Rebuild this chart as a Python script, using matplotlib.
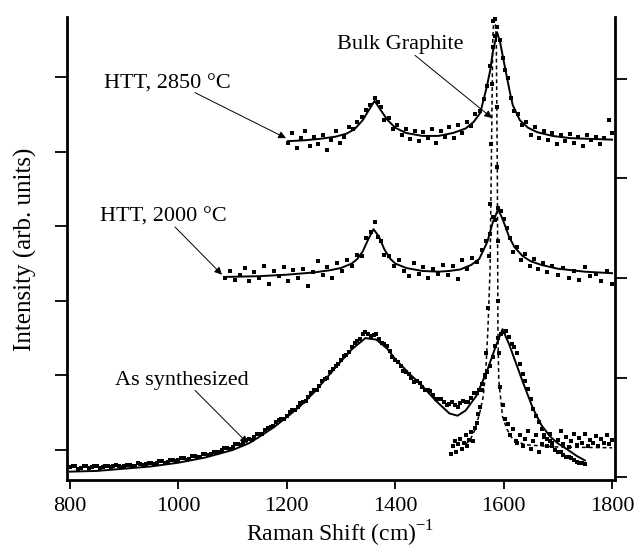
import matplotlib
matplotlib.use('Agg')
import matplotlib.pyplot as plt

plt.rcParams['font.family'] = ['Liberation Serif', 'DejaVu Serif']
plt.rcParams['mathtext.fontset'] = 'custom'
plt.rcParams['mathtext.rm'] = 'Liberation Serif'

# ---------------- data (Raman shift cm^-1, intensity arb. units) ----------------
xticks = [800, 1000, 1200, 1400, 1600, 1800]

# As synthesized: measured points (two interleaved sampling grids) and fit
as_x_a = list(range(800, 1751, 10))
as_y_a = [-0.23, -0.22, -0.24, -0.21, -0.23, -0.22, -0.23, -0.21, -0.22, -0.21,
          -0.22, -0.20, -0.21, -0.19, -0.19, -0.17, -0.18, -0.15, -0.16, -0.13,
          -0.14, -0.11, -0.12, -0.08, -0.09, -0.05, -0.06, -0.02, 0.00, 0.03,
          0.04, 0.08, 0.10, 0.15, 0.17, 0.22, 0.27, 0.31, 0.37, 0.41,
          0.46, 0.53, 0.57, 0.65, 0.71, 0.80, 0.86, 0.95, 1.04, 1.12,
          1.21, 1.28, 1.38, 1.46, 1.55, 1.56, 1.54, 1.49, 1.42, 1.33,
          1.20, 1.12, 1.04, 0.96, 0.92, 0.85, 0.80, 0.74, 0.68, 0.64,
          0.62, 0.60, 0.63, 0.64, 0.70, 0.77, 0.89, 1.04, 1.25, 1.50,
          1.58, 1.52, 1.38, 1.15, 0.92, 0.68, 0.45, 0.28, 0.15, 0.05,
          -0.02, -0.07, -0.10, -0.14, -0.17, -0.19]
as_x_b = list(range(805, 1746, 10))
as_y_b = [-0.21, -0.25, -0.22, -0.24, -0.21, -0.24, -0.21, -0.23, -0.20, -0.23,
          -0.20, -0.22, -0.18, -0.20, -0.17, -0.19, -0.15, -0.17, -0.13, -0.15,
          -0.11, -0.13, -0.08, -0.10, -0.05, -0.07, -0.02, -0.03, 0.03, 0.02,
          0.08, 0.07, 0.14, 0.13, 0.21, 0.22, 0.30, 0.32, 0.40, 0.42,
          0.51, 0.53, 0.63, 0.66, 0.77, 0.81, 0.92, 0.97, 1.09, 1.15,
          1.26, 1.31, 1.43, 1.49, 1.58, 1.53, 1.55, 1.44, 1.40, 1.25,
          1.18, 1.06, 1.02, 0.91, 0.90, 0.80, 0.79, 0.69, 0.68, 0.60,
          0.64, 0.58, 0.66, 0.64, 0.76, 0.80, 0.98, 1.12, 1.40, 1.55,
          1.60, 1.42, 1.30, 1.02, 0.82, 0.55, 0.38, 0.20, 0.12, 0.00,
          -0.03, -0.10, -0.11, -0.16, -0.17]
as_fit_x = [800, 850, 900, 950, 1000, 1050, 1100, 1130, 1150, 1175, 1200, 1225, 1250,
            1275, 1300, 1320, 1345, 1365, 1385, 1400, 1425, 1450, 1475, 1500, 1515,
            1530, 1550, 1570, 1585, 1598, 1610, 1620, 1636, 1654, 1670, 1686, 1700,
            1717, 1735, 1750]
as_fit_y = [-0.29, -0.28, -0.25, -0.22, -0.17, -0.10, 0.00, 0.09, 0.18, 0.30, 0.44, 0.59,
            0.77, 0.98, 1.19, 1.35, 1.50, 1.48, 1.36, 1.22, 1.03, 0.86, 0.66, 0.49, 0.46,
            0.53, 0.73, 1.07, 1.38, 1.62, 1.42, 1.22, 0.90, 0.56, 0.33, 0.18, 0.09,
            0.01, -0.08, -0.14]

# HTT 2000 C
h20_x = [1086, 1095, 1104, 1113, 1122, 1131, 1140, 1149, 1158, 1167, 1176, 1185, 1194,
         1203, 1212, 1221, 1230, 1239, 1248, 1257, 1266, 1275, 1284, 1293, 1302, 1311,
         1320, 1329, 1338, 1347, 1356, 1362, 1368, 1374, 1380, 1389, 1398, 1407, 1416,
         1425, 1434, 1443, 1452, 1461, 1470, 1479, 1488, 1497, 1506, 1515, 1524, 1533,
         1542, 1551, 1560, 1568, 1575, 1580, 1585, 1590, 1595, 1600, 1606, 1612, 1618,
         1625, 1632, 1640, 1648, 1656, 1664, 1672, 1680, 1690, 1700, 1710, 1720, 1730,
         1740, 1750, 1760, 1770, 1780, 1790, 1800]
h20_y = [2.30, 2.40, 2.28, 2.35, 2.44, 2.26, 2.38, 2.31, 2.47, 2.22, 2.40, 2.33, 2.45,
         2.27, 2.41, 2.30, 2.43, 2.20, 2.39, 2.53, 2.34, 2.45, 2.30, 2.51, 2.40, 2.55,
         2.47, 2.62, 2.60, 2.84, 2.92, 3.06, 2.85, 2.80, 2.62, 2.60, 2.47, 2.55, 2.40,
         2.33, 2.50, 2.36, 2.45, 2.31, 2.42, 2.36, 2.48, 2.34, 2.46, 2.29, 2.55, 2.42,
         2.58, 2.52, 2.68, 2.80, 2.90, 3.12, 3.08, 3.24, 3.20, 3.10, 2.98, 2.84, 2.65,
         2.72, 2.55, 2.63, 2.47, 2.56, 2.42, 2.50, 2.38, 2.46, 2.35, 2.44, 2.30, 2.40,
         2.28, 2.45, 2.33, 2.36, 2.26, 2.40, 2.22]
h20_fit_x = [1086, 1150, 1200, 1250, 1280, 1300, 1320, 1330, 1340, 1350, 1360, 1370,
             1380, 1390, 1400, 1420, 1450, 1480, 1500, 1520, 1540, 1555, 1570, 1580,
             1590, 1600, 1610, 1620, 1635, 1650, 1670, 1700, 1750, 1800]
h20_fit_y = [2.32, 2.33, 2.35, 2.38, 2.41, 2.44, 2.50, 2.56, 2.66, 2.82, 2.96, 2.86,
             2.69, 2.57, 2.50, 2.44, 2.40, 2.39, 2.40, 2.42, 2.48, 2.56, 2.79, 3.05,
             3.23, 3.06, 2.86, 2.72, 2.60, 2.53, 2.48, 2.43, 2.39, 2.37]

# HTT 2850 C
h28_x = [1202, 1210, 1218, 1226, 1234, 1242, 1250, 1258, 1266, 1274, 1282, 1290, 1298,
         1306, 1314, 1322, 1330, 1338, 1346, 1354, 1362, 1368, 1374, 1380, 1388, 1396,
         1404, 1412, 1420, 1428, 1436, 1444, 1452, 1460, 1468, 1476, 1484, 1492, 1500,
         1508, 1516, 1524, 1532, 1540, 1548, 1556, 1563, 1570, 1575, 1580, 1584, 1588,
         1593, 1598, 1603, 1608, 1614, 1620, 1627, 1634, 1642, 1650, 1658, 1666, 1674,
         1682, 1690, 1698, 1706, 1714, 1722, 1730, 1738, 1746, 1754, 1762, 1770, 1778,
         1786, 1794, 1800]
h28_y = [4.12, 4.25, 4.05, 4.18, 4.28, 4.08, 4.20, 4.10, 4.22, 4.02, 4.16, 4.27, 4.12,
         4.20, 4.33, 4.30, 4.40, 4.47, 4.56, 4.62, 4.72, 4.66, 4.60, 4.43, 4.45, 4.30,
         4.36, 4.22, 4.30, 4.17, 4.28, 4.14, 4.26, 4.18, 4.30, 4.12, 4.27, 4.20, 4.33,
         4.18, 4.35, 4.25, 4.40, 4.34, 4.50, 4.55, 4.70, 4.88, 5.15, 5.40, 5.55, 5.67,
         5.50, 5.25, 5.10, 4.98, 4.72, 4.55, 4.50, 4.35, 4.40, 4.22, 4.33, 4.18, 4.28,
         4.15, 4.25, 4.10, 4.22, 4.14, 4.24, 4.12, 4.20, 4.08, 4.22, 4.15, 4.20, 4.10,
         4.18, 4.42, 4.25]
h28_fit_x = [1202, 1230, 1260, 1290, 1310, 1325, 1340, 1350, 1362, 1372, 1385, 1400,
             1420, 1450, 1480, 1507, 1530, 1545, 1557, 1569, 1575, 1580, 1588, 1594,
             1600, 1606, 1612, 1617, 1630, 1645, 1662, 1690, 1723, 1760, 1800]
h28_fit_y = [4.14, 4.15, 4.17, 4.20, 4.24, 4.30, 4.42, 4.54, 4.68, 4.57, 4.43, 4.32,
             4.25, 4.21, 4.21, 4.25, 4.31, 4.40, 4.52, 4.87, 5.08, 5.33, 5.60, 5.45,
             5.22, 5.00, 4.78, 4.62, 4.42, 4.32, 4.26, 4.21, 4.18, 4.17, 4.16]

# Bulk graphite
bg_x = [1503, 1507, 1510, 1513, 1516, 1520, 1523, 1527, 1530, 1533, 1537, 1540, 1543,
        1547, 1550, 1553, 1557, 1561, 1565, 1568, 1571, 1573, 1575, 1577, 1579, 1581,
        1585, 1587, 1588, 1589, 1590, 1591, 1594, 1598, 1603, 1608, 1612, 1617, 1622,
        1625, 1630, 1635, 1640, 1645, 1650, 1655, 1660, 1665, 1670, 1675, 1680, 1685,
        1690, 1695, 1700, 1705, 1710, 1715, 1720, 1725, 1730, 1735, 1740, 1745, 1750,
        1755, 1760, 1765, 1770, 1775, 1780, 1785, 1790, 1795, 1800]
bg_y = [-0.05, 0.05, 0.12, -0.02, 0.08, 0.15, 0.02, 0.10, 0.20, 0.06, 0.14, 0.24, 0.12,
        0.30, 0.36, 0.48, 0.58, 0.80, 1.00, 1.30, 1.90, 2.60, 3.30, 4.10, 4.90, 5.75,
        5.78, 4.60, 3.80, 2.80, 2.00, 1.30, 0.85, 0.60, 0.42, 0.35, 0.20, 0.28, 0.12,
        0.10, 0.20, 0.05, 0.15, 0.25, 0.02, 0.12, 0.20, -0.02, 0.08, 0.17, 0.05, 0.22,
        0.10, 0.00, 0.14, 0.25, 0.08, 0.18, 0.04, 0.12, 0.21, 0.07, 0.16, 0.10, 0.22,
        0.05, 0.14, 0.09, 0.19, 0.06, 0.15, 0.10, 0.20, 0.08, 0.13]
bg_fit_x = [1530, 1538, 1547, 1556, 1562, 1567, 1571, 1575, 1577, 1580, 1583, 1586.5,
            1588.5, 1589.5, 1591, 1598, 1606, 1618, 1640, 1700, 1800]
bg_fit_y = [0.08, 0.13, 0.27, 0.50, 0.70, 1.05, 1.61, 2.41, 3.62, 5.50, 5.95, 5.50,
            3.62, 1.61, 0.94, 0.45, 0.28, 0.13, 0.07, 0.04, 0.03]

# annotation labels
labels = ['HTT, 2850 °C', 'HTT, 2000 °C', 'As synthesized', 'Bulk Graphite']

# ---------------- figure ----------------
fig = plt.figure(figsize=(6.36, 5.48), dpi=100)
ax = fig.add_axes([67 / 636, 68 / 548, 548 / 636, 463 / 548])
ax.set_xlim(794.5, 1805.5)
ax.set_ylim(-0.402, 5.804)

dot_kw = dict(ls='none', marker='s', ms=2.5, mew=0, color='black')
line_kw = dict(color='black', lw=1.4)

ax.plot(as_x_a, as_y_a, **dot_kw)
ax.plot(as_x_b, as_y_b, **dot_kw)
ax.plot(h20_x, h20_y, **dot_kw)
ax.plot(h28_x, h28_y, **dot_kw)
ax.plot(bg_x, bg_y, **dot_kw)

ax.plot(as_fit_x, as_fit_y, **line_kw)
ax.plot(h20_fit_x, h20_fit_y, **line_kw)
ax.plot(h28_fit_x, h28_fit_y, **line_kw)
ax.plot(bg_fit_x, bg_fit_y, color='black', lw=1.1, ls=(0, (2.5, 2)))

# spines / ticks
for s in ['top', 'right']:
    ax.spines[s].set_visible(False)
for s in ['left', 'bottom']:
    ax.spines[s].set_linewidth(2.0)
ax.set_xticks(xticks)
ax.set_xticklabels([str(v) for v in xticks])
ax.tick_params(axis='x', direction='out', length=6.5, width=1.3, labelsize=16, pad=6)
ax.set_yticks([0, 1, 2, 3, 4, 5])
ax.tick_params(axis='y', direction='out', length=8.6, width=1.3, labelleft=False)

ax2 = ax.twinx()
ax2.set_ylim(-0.03, 4.623)
ax2.set_yticks([0, 1, 2, 3, 4])
ax2.tick_params(axis='y', direction='out', length=8.6, width=1.3, labelright=False)
for s in ['top', 'left', 'bottom']:
    ax2.spines[s].set_visible(False)
ax2.spines['right'].set_linewidth(2.0)

# annotations
text_pos = [(979, 4.85), (973, 3.06), (1007, 0.87), (1409, 5.375)]
arrow_tail = [(1030.6, 4.79), (993.7, 2.99), (1030.6, 0.80), (1436.5, 5.29)]
arrow_tip = [(1198.5, 4.18), (1080.4, 2.35), (1128.0, 0.09), (1578.6, 4.45)]
for lab, tp, tl, tip in zip(labels, text_pos, arrow_tail, arrow_tip):
    ax.text(tp[0], tp[1], lab, ha='center', va='baseline', fontsize=16)
    ax.annotate('', xy=tip, xytext=tl,
                arrowprops=dict(arrowstyle='-|>', lw=0.7, color='black',
                                mutation_scale=11, shrinkA=0, shrinkB=0))

fig.text(340 / 636, (548 - 542) / 548, 'Raman Shift (cm)$^{\\mathrm{-1}}$',
         ha='center', va='baseline', fontsize=17)
fig.text(25 / 636, (548 - 249) / 548, 'Intensity (arb. units)', rotation=90,
         ha='center', va='center', fontsize=18)

fig.savefig('out.png', dpi=100)
